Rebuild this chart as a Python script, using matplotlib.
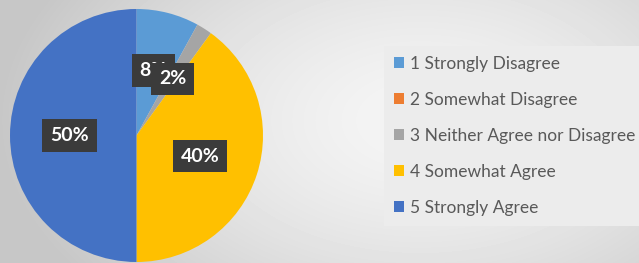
import numpy as np
import matplotlib.pyplot as plt
from matplotlib.patches import Rectangle

categories = ["1 Strongly Disagree", "2 Somewhat Disagree", "3 Neither Agree nor Disagree",
              "4 Somewhat Agree", "5 Strongly Agree"]
shares = [8, 0, 2, 40, 50]
colors = ["#5B9BD5", "#ED7D31", "#A5A5A5", "#FFC000", "#4472C4"]

W, H = 639, 263
fig = plt.figure(figsize=(W / 100, H / 100), dpi=100)

# grey radial background
bg = fig.add_axes([0, 0, 1, 1])
yy, xx = np.mgrid[0:H, 0:W]
d = np.sqrt(((xx - 420) / 420) ** 2 + ((yy - 120) / 260) ** 2)
bg.imshow(0.96 - 0.18 * np.clip(d, 0, 1) ** 1.5, cmap="gray", vmin=0, vmax=1,
          extent=[0, W, H, 0], aspect="auto")
bg.set_xlim(0, W)
bg.set_ylim(H, 0)
bg.axis("off")

# legend panel
fig.patches.append(Rectangle((384 / W, 1 - 226 / H), (W - 384) / W, 180 / H,
                             transform=fig.transFigure, facecolor="#ececec",
                             edgecolor="none", zorder=1))

r = 126.5
cx, cy = 136.5, H - 135.5
ax = fig.add_axes([(cx - r) / W, (cy - r) / H, 2 * r / W, 2 * r / H])


def fmt(p):
    return "" if p < 0.5 else f"{p:.0f}%"


wedges, texts, autotexts = ax.pie(
    shares, colors=colors, startangle=90, counterclock=False, radius=1,
    autopct=fmt, pctdistance=0.53,
    textprops=dict(color="white", fontsize=14, fontweight="bold", family="Lato"))
for t in autotexts:
    t.set_bbox(dict(boxstyle="square,pad=0.4", facecolor="#3b3b3b", edgecolor="none"))
ax.set_xlim(-1, 1)
ax.set_ylim(-1, 1)
ax.set_aspect("auto")
ax.axis("off")

fig.legend(wedges, categories, loc="center left",
           bbox_to_anchor=(378 / W, 1 - 136 / H), frameon=False,
           prop=dict(family="Lato", size=12.5), labelcolor="#595959",
           handlelength=0.6, handleheight=0.6, handletextpad=0.35,
           labelspacing=1.15)

fig.savefig("out.png", dpi=100)
